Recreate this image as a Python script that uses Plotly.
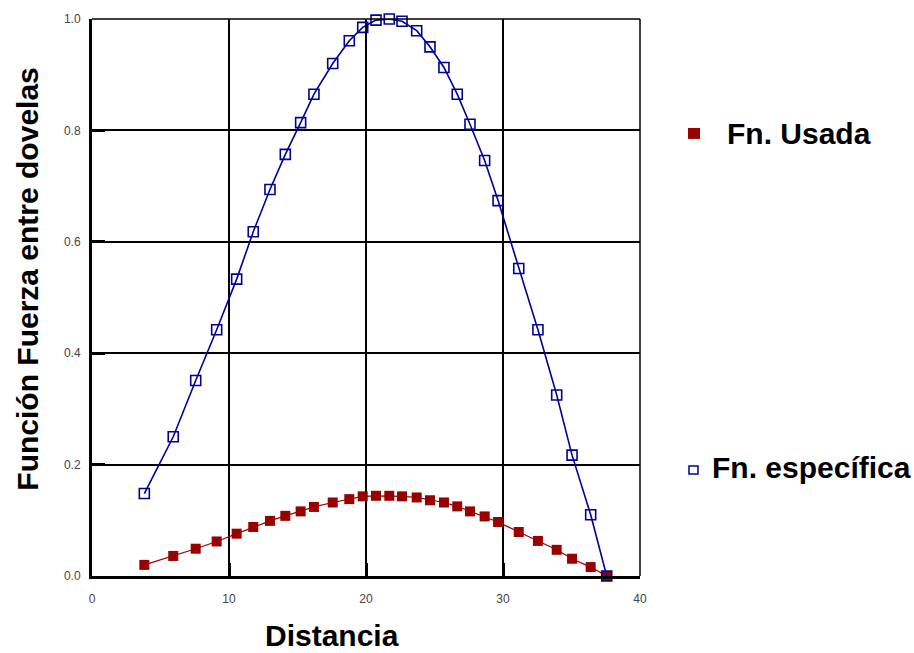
import plotly.graph_objects as go

# Distance along the slip surface for each slice
distancia = [3.82, 5.93, 7.57, 9.10, 10.56, 11.77, 12.99, 14.11, 15.23, 16.20,
             17.57, 18.78, 19.76, 20.73, 21.70, 22.63, 23.70, 24.67, 25.69, 26.66,
             27.59, 28.66, 29.64, 31.15, 32.55, 33.92, 35.04, 36.40, 37.57]

# Specific interslice force function
fn_especifica = [0.148, 0.250, 0.351, 0.442, 0.533, 0.618, 0.694, 0.757, 0.814, 0.865,
                 0.920, 0.961, 0.985, 0.998, 1.000, 0.996, 0.979, 0.950, 0.913, 0.865,
                 0.811, 0.746, 0.674, 0.552, 0.442, 0.325, 0.217, 0.110, 0.000]

# Interslice force function actually used
fn_usada = [0.020, 0.036, 0.049, 0.062, 0.076, 0.088, 0.099, 0.108, 0.116, 0.124,
            0.132, 0.138, 0.143, 0.144, 0.144, 0.143, 0.141, 0.136, 0.132, 0.125,
            0.116, 0.107, 0.097, 0.079, 0.063, 0.047, 0.031, 0.016, 0.000]

x_ticks = [0, 10, 20, 30, 40]
y_ticks = [0.0, 0.2, 0.4, 0.6, 0.8, 1.0]

RED = "#990000"
BLUE = "#000099"
FONT = "Liberation Sans, Arial, sans-serif"
TITLE_SIZE = 30

fig = go.Figure()

fig.add_trace(go.Scatter(
    x=distancia, y=fn_usada, mode="lines+markers", name="Fn. Usada",
    line=dict(color=RED, width=1.2),
    marker=dict(symbol="square", size=10, color=RED),
    showlegend=False, cliponaxis=False,
))
fig.add_trace(go.Scatter(
    x=distancia, y=fn_especifica, mode="lines+markers", name="Fn. específica",
    line=dict(color=BLUE, width=1.6),
    marker=dict(symbol="square-open", size=10, color=BLUE, line=dict(width=1.6)),
    showlegend=False, cliponaxis=False,
))

axis_common = dict(
    showgrid=True, gridcolor="black", gridwidth=1.5,
    showline=True, linecolor="black", linewidth=3,
    ticks="inside", ticklen=13, tickwidth=3, tickcolor="black",
    tickfont=dict(family=FONT, size=12, color="#444444"),
    zeroline=False,
)

fig.update_xaxes(range=[0, 40], tickvals=x_ticks, ticklabelstandoff=10, **axis_common)
fig.update_yaxes(range=[0, 1], tickvals=y_ticks, tickformat=".1f",
                 ticklabelstandoff=6, **axis_common)

# Outer border on top and right (thin, like the grid)
fig.add_shape(type="line", xref="paper", yref="paper", x0=0, x1=1, y0=1, y1=1,
              line=dict(color="black", width=1.5))
fig.add_shape(type="line", xref="paper", yref="paper", x0=1, x1=1, y0=0, y1=1,
              line=dict(color="black", width=1.5))


def px_x(p):
    return (p - 92) / 548


def px_y(p):
    return (576 - p) / 562


# Axis titles
fig.add_annotation(text="<b>Distancia</b>", xref="paper", yref="paper",
                   x=px_x(332), y=px_y(636), xanchor="center", yanchor="middle",
                   showarrow=False, font=dict(family=FONT, size=TITLE_SIZE, color="black"))
fig.add_annotation(text="<b>Función Fuerza entre dovelas</b>", xref="paper", yref="paper",
                   x=px_x(28), y=px_y(277), xanchor="center", yanchor="middle",
                   textangle=-90, showarrow=False,
                   font=dict(family=FONT, size=TITLE_SIZE, color="black"))

# Legend keys and labels
fig.add_shape(type="rect", xref="paper", yref="paper",
              x0=px_x(688), x1=px_x(700), y0=px_y(135), y1=px_y(124),
              fillcolor=RED, line=dict(color=RED, width=0))
fig.add_annotation(text="<b>Fn. Usada</b>", xref="paper", yref="paper",
                   x=px_x(725), y=px_y(130), xanchor="left", yanchor="middle",
                   showarrow=False, font=dict(family=FONT, size=TITLE_SIZE, color="black"))

fig.add_shape(type="rect", xref="paper", yref="paper",
              x0=px_x(689), x1=px_x(698), y0=px_y(473), y1=px_y(465),
              fillcolor="white", line=dict(color=BLUE, width=1.5))
fig.add_annotation(text="<b>Fn. específica</b>", xref="paper", yref="paper",
                   x=px_x(710), y=px_y(467), xanchor="left", yanchor="middle",
                   showarrow=False, font=dict(family=FONT, size=TITLE_SIZE, color="black"))

fig.update_layout(
    width=914, height=653,
    margin=dict(l=92, r=274, t=14, b=77),
    plot_bgcolor="white", paper_bgcolor="white",
    font=dict(family=FONT),
)

fig.write_html("out.html")
